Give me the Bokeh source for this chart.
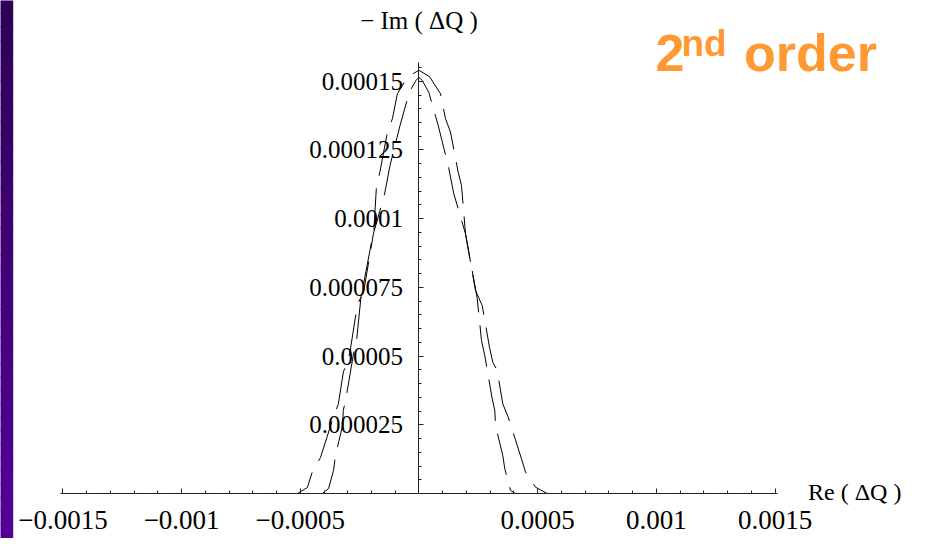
from bokeh.plotting import figure
from bokeh.models import LinearAxis, FixedTicker, Label, Range1d, BoxAnnotation
from bokeh.embed import file_html
from bokeh.resources import INLINE

# ---- data ----
x_ticks = [-0.0015, -0.001, -0.0005, 0.0005, 0.001, 0.0015]
x_tick_labels = ["\u22120.0015", "\u22120.001", "\u22120.0005", "0.0005", "0.001", "0.0015"]
y_ticks = [0.000025, 0.00005, 0.000075, 0.0001, 0.000125, 0.00015]
y_tick_labels = ["0.000025", "0.00005", "0.000075", "0.0001", "0.000125", "0.00015"]

# curve with sharp peak and wide base
curve1_x = [-0.0015, -5.12e-4, -4.70e-4, -4.49e-4, -4.15e-4, -3.62e-4, -3.40e-4, -3.18e-4,
            -3.00e-4, -2.88e-4, -2.60e-4, -2.32e-4, -1.92e-4, -1.45e-4, -1.22e-4, -8.0e-5,
            -4.1e-5, -1.3e-5, 0.0, 1.35e-5, 4.13e-5, 8.09e-5, 1.23e-4, 1.466e-4, 1.959e-4,
            2.38e-4, 2.663e-4, 2.97e-4, 3.109e-4, 3.295e-4, 3.531e-4, 3.758e-4, 4.318e-4,
            4.487e-4, 4.908e-4, 5.40e-4, 0.0015]
curve1_y = [0.0, 0.0, 2.2e-6, 8.0e-6, 1.31e-5, 2.75e-5, 3.25e-5, 4.45e-5,
            4.75e-5, 5.3e-5, 6.85e-5, 7.4e-5, 9.45e-5, 1.09e-4, 1.194e-4, 1.339e-4,
            1.46e-4, 1.503e-4, 1.515e-4, 1.503e-4, 1.46e-4, 1.339e-4, 1.194e-4, 1.091e-4, 9.45e-5,
            7.39e-5, 6.84e-5, 5.32e-5, 4.78e-5, 4.48e-5, 3.26e-5, 2.78e-5, 1.26e-5,
            7.8e-6, 2.3e-6, 0.0, 0.0]

# curve with rounder top and narrower base
curve2_x = [-0.0015, -4.07e-4, -3.81e-4, -3.60e-4, -3.52e-4, -3.22e-4, -3.19e-4, -3.08e-4,
            -2.77e-4, -2.63e-4, -2.45e-4, -1.90e-4, -1.79e-4, -1.65e-4, -1.33e-4, -1.12e-4,
            -9.1e-5, -4.7e-5, 0.0, 4.42e-5, 9.06e-5, 1.116e-4, 1.327e-4, 1.652e-4, 1.791e-4,
            1.959e-4, 2.452e-4, 2.633e-4, 2.772e-4, 3.084e-4, 3.193e-4, 3.223e-4, 3.531e-4,
            3.615e-4, 3.855e-4, 4.064e-4, 0.0015]
curve2_y = [0.0, 0.0, 1.8e-6, 8.4e-6, 1.38e-5, 2.47e-5, 3.02e-5, 3.45e-5,
            5.02e-5, 5.57e-5, 7.1e-5, 9.6e-5, 1.121e-4, 1.169e-4, 1.315e-4, 1.364e-4,
            1.455e-4, 1.517e-4, 1.54e-4, 1.517e-4, 1.455e-4, 1.364e-4, 1.315e-4, 1.169e-4, 1.121e-4,
            9.46e-5, 7.1e-5, 5.57e-5, 5.02e-5, 3.45e-5, 3.02e-5, 2.47e-5, 1.38e-5,
            9.0e-6, 1.1e-6, 0.0, 0.0]

x_minor = [round(-0.0015 + i * 0.0001, 6) for i in range(31)]
y_minor = [round(i * 0.000005, 7) for i in range(32)]

X0, X1 = -0.0017631, 0.0020749
Y0, Y1 = -1.6376e-5, 1.79403e-4

p = figure(width=911, height=538, x_range=Range1d(X0, X1), y_range=Range1d(Y0, Y1),
           output_backend="svg", toolbar_location=None,
           x_axis_location=None, y_axis_location=None, min_border=0,
           outline_line_color=None, background_fill_color="white")
p.grid.visible = False

# left purple band (decoration)
n_bands = 40
c_top = (46, 0, 86)
c_bot = (82, 0, 152)
for i in range(n_bands):
    t = (i + 0.5) / n_bands
    col = tuple(int(round(c_bot[k] + (c_top[k] - c_bot[k]) * t)) for k in range(3))
    b = Y0 + (Y1 - Y0) * i / n_bands
    tp = Y0 + (Y1 - Y0) * (i + 1) / n_bands
    p.add_layout(BoxAnnotation(left=X0 - 0.00001, right=X0 + 0.0000535, bottom=b, top=tp + 3e-7,
                               fill_color="#%02x%02x%02x" % col, fill_alpha=1.0,
                               line_color=None, level="underlay"))

axis_style = dict(axis_line_color="#222222", axis_line_width=1,
                  major_tick_line_color="#222222", minor_tick_line_color="#222222",
                  major_tick_in=5, major_tick_out=0, minor_tick_in=3, minor_tick_out=0,
                  major_label_text_font="Liberation Serif",
                  major_label_text_color="black")

xaxis = LinearAxis(fixed_location=0,
                   ticker=FixedTicker(ticks=x_ticks, minor_ticks=x_minor),
                   bounds=(-0.00151, 0.00151),
                   major_label_overrides={t: s for t, s in zip(x_ticks, x_tick_labels)},
                   major_label_standoff=18, major_label_text_font_size="27px", **axis_style)
p.add_layout(xaxis, "below")

yaxis = LinearAxis(fixed_location=0,
                   ticker=FixedTicker(ticks=y_ticks, minor_ticks=y_minor),
                   bounds=(0, 0.000157),
                   major_label_overrides={t: s for t, s in zip(y_ticks, y_tick_labels)},
                   major_label_standoff=16, major_label_text_font_size="25px", **axis_style)
p.add_layout(yaxis, "left")

p.line(curve1_x, curve1_y, line_color="black", line_width=1, line_dash="42 13")
p.line(curve2_x, curve2_y, line_color="black", line_width=1, line_dash="42 13",
       line_dash_offset=20)

p.add_layout(Label(x=0.0016389, y=0.0000004, text="Re ( \u0394Q )", text_font="Liberation Serif",
                   text_font_size="24px", text_baseline="middle", text_align="left",
                   text_color="black"))
p.add_layout(Label(x=0.0, y=0.00017212, text="\u2212 Im ( \u0394Q )", text_font="Liberation Serif",
                   text_font_size="25px", text_baseline="middle", text_align="center",
                   text_color="black"))

orange = "#ff9933"
p.add_layout(Label(x=0.0009964, y=0.00016012, text="2", text_font="Liberation Sans",
                   text_font_style="bold", text_font_size="52px", text_color=orange,
                   text_baseline="middle"))
p.add_layout(Label(x=0.0011059, y=0.00016376, text="nd", text_font="Liberation Sans",
                   text_font_style="bold", text_font_size="37px", text_color=orange,
                   text_baseline="middle"))
p.add_layout(Label(x=0.0013692, y=0.00016012, text="order", text_font="Liberation Sans",
                   text_font_style="bold", text_font_size="52px", text_color=orange,
                   text_baseline="middle"))

open("out.html", "w").write(file_html(p, INLINE))
